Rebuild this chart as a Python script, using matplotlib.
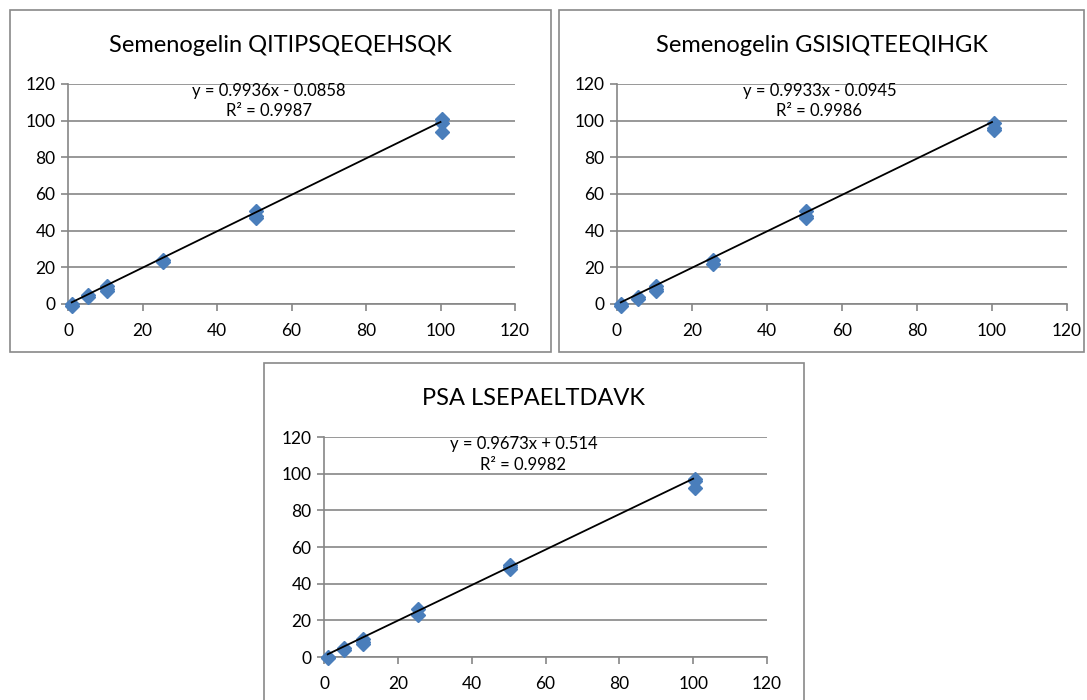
import matplotlib.pyplot as plt
from matplotlib.patches import Rectangle
import numpy as np

plt.rcParams['font.family'] = ['Lato', 'DejaVu Sans']

# data
conc = [1, 1, 5.5, 5.5, 10.5, 10.5, 10.5, 25.5, 25.5, 50.5, 50.5, 50.5, 100.5, 100.5, 100.5]

titles = ["Semenogelin QITIPSQEQEHSQK", "Semenogelin GSISIQTEEQIHGK", "PSA LSEPAELTDAVK"]
meas1 = [0, -1, 4, 5, 8, 10, 7, 23, 24, 51, 48, 47, 101, 99, 94]
meas2 = [0, -1, 3, 4, 10, 7, 8, 24, 22, 51, 47, 48, 99, 95, 96]
meas3 = [0, -0.5, 4, 5, 10, 7, 8, 26, 23, 50, 48, 49, 97, 92, 96]
slopes = [0.9936, 0.9933, 0.9673]
intercepts = [-0.0858, -0.0945, 0.514]
eq_text = ["y = 0.9936x - 0.0858", "y = 0.9933x - 0.0945", "y = 0.9673x + 0.514"]
r2_text = ["R² = 0.9987", "R² = 0.9986", "R² = 0.9982"]
ticks = [0, 20, 40, 60, 80, 100, 120]

W, H = 1087, 700
fig = plt.figure(figsize=(W / 100, H / 100), dpi=100)

# pixel layout: border box, plot area, title y
panels = [
    dict(box=(10, 10, 551, 352), area=(68, 84, 515, 304), ty=45),
    dict(box=(559, 10, 1084, 352), area=(617, 84, 1067, 304), ty=45),
    dict(box=(264, 363, 804, 702), area=(324, 437, 767, 657), ty=398),
]
grid_col = '#868686'
blue = '#4A7EBB'

for i, p in enumerate(panels):
    bx0, by0, bx1, by1 = p['box']
    fig.patches.append(Rectangle((bx0 / W, 1 - by1 / H), (bx1 - bx0) / W, (by1 - by0) / H,
                                 transform=fig.transFigure, fill=False,
                                 edgecolor='#898989', lw=1.2))
    fig.text((bx0 + bx1) / 2 / W, 1 - p['ty'] / H, titles[i], ha='center', va='center',
             fontsize=17, color='black')

    x0, y0, x1, y1 = p['area']
    ax = fig.add_axes([x0 / W, 1 - y1 / H, (x1 - x0) / W, (y1 - y0) / H])
    ax.set_xlim(0, 120)
    ax.set_ylim(0, 120)
    ax.set_xticks(ticks)
    ax.set_yticks(ticks)
    for s in ['top', 'right']:
        ax.spines[s].set_visible(False)
    for s in ['left', 'bottom']:
        ax.spines[s].set_color(grid_col)
        ax.spines[s].set_linewidth(1.2)
    ax.yaxis.grid(True, color=grid_col, lw=1.2)
    ax.set_axisbelow(True)
    ax.tick_params(axis='both', direction='out', length=5, width=1.2, color=grid_col,
                   labelsize=12.5, pad=4)
    ax.tick_params(axis='x', pad=9)

    y = [meas1, meas2, meas3][i]
    ax.plot(conc, y, 'D', color=blue, markersize=7.5, clip_on=False, zorder=3)
    xl = np.array([min(conc), 100])
    ax.plot(xl, slopes[i] * xl + intercepts[i], color='black', lw=1.3, zorder=4)

    ax.text(54, 116, eq_text[i], ha='center', va='center', fontsize=12)
    ax.text(54, 105, r2_text[i], ha='center', va='center', fontsize=12)

fig.savefig('out.png', dpi=100)
